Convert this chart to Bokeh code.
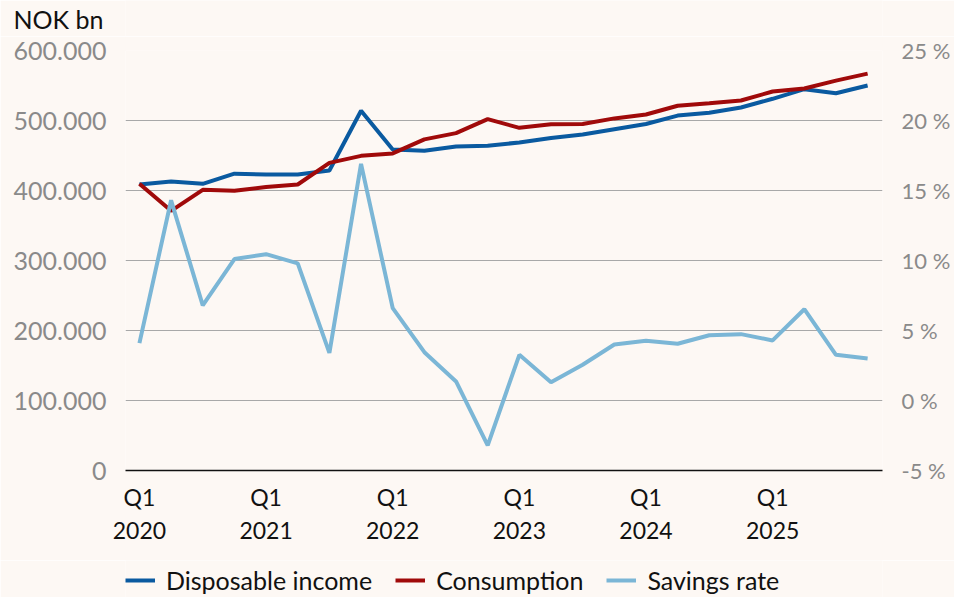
from bokeh.plotting import figure
from bokeh.layouts import column
from bokeh.models import (Range1d, LinearAxis, FixedTicker, Legend, LegendItem)
from bokeh.embed import file_html
from bokeh.resources import INLINE

quarters = [f"Q{q} {y}" for y in range(2020, 2026) for q in range(1, 5)]
disposable_income = [408600, 413000, 409500, 424000, 423000, 423000, 428600, 514000,
                     458600, 456700, 462900, 464000, 468600, 475000, 480000, 487600,
                     495000, 507000, 511000, 518600, 531000, 544700, 539000, 550000]
consumption = [409500, 371000, 401000, 399500, 405000, 408600, 439500, 449500,
               453000, 473000, 482000, 502000, 489500, 494800, 495000, 503000,
               508600, 521000, 524700, 528600, 541400, 545700, 557000, 567000]
savings_rate = [4.1, 14.3, 6.8, 10.1, 10.45, 9.8, 3.4, 16.9,
                6.6, 3.45, 1.36, -3.2, 3.26, 1.3, 2.55, 4.0,
                4.26, 4.05, 4.66, 4.74, 4.29, 6.52, 3.26, 3.0]

series_names = ["Disposable income", "Consumption", "Savings rate"]
series_colors = ["#0a5aa0", "#a00a0a", "#7bb6d6"]
left_ticks = [0, 100000, 200000, 300000, 400000, 500000, 600000]
left_labels = ["0", "100.000", "200.000", "300.000", "400.000", "500.000", "600.000"]
right_ticks = [-5, 0, 5, 10, 15, 20, 25]
right_labels = ["-5 %", "0 %", "5 %", "10 %", "15 %", "20 %", "25 %"]
x_ticks = [0, 4, 8, 12, 16, 20]
x_labels = ["Q1\n2020", "Q1\n2021", "Q1\n2022", "Q1\n2023", "Q1\n2024", "Q1\n2025"]
unit_label = "NOK bn"

BG = "#fdf8f4"
FONT = "Lato"
W = 954
idx = list(range(len(quarters)))


def strip(h):
    f = figure(width=W, height=h, output_backend="svg", toolbar_location=None,
               x_range=Range1d(0, 757), y_range=Range1d(0, h),
               x_axis_location=None, y_axis_location=None,
               min_border=0, background_fill_color=BG, border_fill_color=BG,
               outline_line_color=None)
    f.grid.visible = False
    return f


# top strip: the unit label, as a horizontal axis label on the left
top = strip(36)
unit_axis = LinearAxis(ticker=FixedTicker(ticks=[]), axis_label=unit_label,
                       axis_label_orientation="horizontal", axis_label_standoff=22,
                       axis_label_text_font=FONT, axis_label_text_font_size="25px",
                       axis_label_text_font_style="normal", axis_label_text_color="#111111",
                       axis_line_color=None, major_tick_out=0, major_tick_in=0,
                       major_label_standoff=0, minor_tick_line_color=None,
                       major_tick_line_color=None)
top.add_layout(unit_axis, "left")

# main chart
p = figure(frame_width=757, frame_height=420, output_backend="svg", toolbar_location=None,
           x_range=Range1d(-0.44, 23.47), y_range=Range1d(0, 600000),
           min_border_left=125, min_border_right=72, min_border_top=14, min_border_bottom=90,
           background_fill_color=BG, border_fill_color=BG, outline_line_color=None)
p.extra_y_ranges = {"rate": Range1d(-5, 25)}

p.line(idx, disposable_income, line_color=series_colors[0], line_width=4)
p.line(idx, consumption, line_color=series_colors[1], line_width=4)
p.line(idx, savings_rate, y_range_name="rate", line_color=series_colors[2], line_width=4)

p.xaxis.ticker = FixedTicker(ticks=x_ticks)
p.xaxis.major_label_overrides = dict(zip(x_ticks, x_labels))
p.xaxis.axis_line_color = "#111111"
p.xaxis.axis_line_width = 1.5
p.xaxis.major_tick_line_color = None
p.xaxis.minor_tick_line_color = None
p.xaxis.major_label_text_font = FONT
p.xaxis.major_label_text_font_size = "23px"
p.xaxis.major_label_text_color = "#111111"
p.xaxis.major_label_standoff = 6

p.yaxis.ticker = FixedTicker(ticks=left_ticks)
p.yaxis.major_label_overrides = dict(zip(left_ticks, left_labels))
p.yaxis.axis_line_color = None
p.yaxis.major_tick_line_color = None
p.yaxis.minor_tick_line_color = None
p.yaxis.major_label_text_font = FONT
p.yaxis.major_label_text_font_size = "25px"
p.yaxis.major_label_text_color = "#8a8a8a"
p.yaxis.major_label_standoff = 13

raxis = LinearAxis(y_range_name="rate", ticker=FixedTicker(ticks=right_ticks))
raxis.major_label_overrides = dict(zip(right_ticks, right_labels))
raxis.axis_line_color = None
raxis.major_tick_line_color = None
raxis.minor_tick_line_color = None
raxis.major_label_text_font = FONT
raxis.major_label_text_font_size = "22px"
raxis.major_label_text_color = "#8a8a8a"
raxis.major_label_standoff = 13
p.add_layout(raxis, "right")

p.xgrid.grid_line_color = None
p.ygrid.ticker = FixedTicker(ticks=left_ticks[1:])
p.ygrid.grid_line_color = "#a8a8a8"
p.ygrid.grid_line_width = 1.2

# bottom strip: the legend (its lines carry the series but lie outside the strip's view)
bottom = strip(37)
items = []
for name, color, vals in zip(series_names, series_colors,
                             [disposable_income, consumption, savings_rate]):
    r = bottom.line(idx, [v * 1000 + 100000 for v in vals], line_color=color, line_width=4)
    items.append(LegendItem(label=name, renderers=[r]))
legend = Legend(items=items, orientation="horizontal", location=(0, 2),
                background_fill_alpha=0, border_line_color=None,
                label_text_font=FONT, label_text_font_size="25px", label_text_color="#111111",
                glyph_width=30, glyph_height=20, label_standoff=11, spacing=23,
                padding=0, margin=0)
bottom.add_layout(legend, "center")

layout = column(top, p, bottom, spacing=0)
open("out.html", "w").write(file_html(layout, INLINE))
